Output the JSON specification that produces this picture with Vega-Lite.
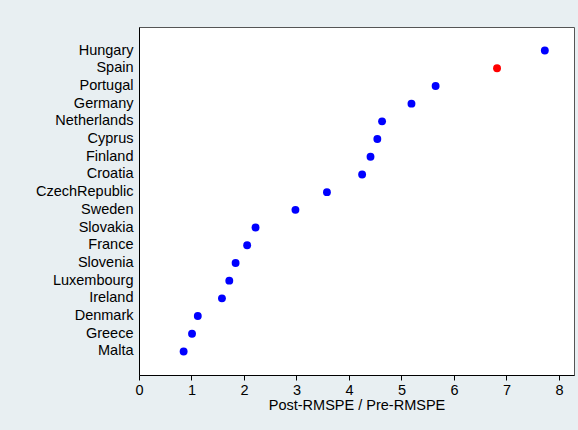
{
  "$schema": "https://vega.github.io/schema/vega-lite/v6.json",
  "width": 435,
  "height": 348,
  "autosize": {"type": "none"},
  "padding": {"left": 139, "top": 27, "right": 4, "bottom": 55},
  "background": "#e8eff2",
  "config": {
    "font": "Liberation Sans",
    "view": {"fill": "#ffffff", "stroke": "#555555", "strokeWidth": 1}
  },
  "data": {
    "values": [
      {"country": "Hungary", "ratio": 7.73, "group": "other"},
      {"country": "Spain", "ratio": 6.82, "group": "Spain"},
      {"country": "Portugal", "ratio": 5.65, "group": "other"},
      {"country": "Germany", "ratio": 5.19, "group": "other"},
      {"country": "Netherlands", "ratio": 4.63, "group": "other"},
      {"country": "Cyprus", "ratio": 4.54, "group": "other"},
      {"country": "Finland", "ratio": 4.41, "group": "other"},
      {"country": "Croatia", "ratio": 4.25, "group": "other"},
      {"country": "CzechRepublic", "ratio": 3.58, "group": "other"},
      {"country": "Sweden", "ratio": 2.98, "group": "other"},
      {"country": "Slovakia", "ratio": 2.22, "group": "other"},
      {"country": "France", "ratio": 2.06, "group": "other"},
      {"country": "Slovenia", "ratio": 1.84, "group": "other"},
      {"country": "Luxembourg", "ratio": 1.72, "group": "other"},
      {"country": "Ireland", "ratio": 1.58, "group": "other"},
      {"country": "Denmark", "ratio": 1.12, "group": "other"},
      {"country": "Greece", "ratio": 1.01, "group": "other"},
      {"country": "Malta", "ratio": 0.85, "group": "other"}
    ]
  },
  "mark": {"type": "point", "filled": true, "opacity": 1, "size": 62},
  "encoding": {
    "x": {
      "field": "ratio",
      "type": "quantitative",
      "scale": {"domain": [0, 8.286], "nice": false, "zero": false},
      "axis": {
        "title": "Post-RMSPE / Pre-RMSPE",
        "values": [0, 1, 2, 3, 4, 5, 6, 7, 8],
        "grid": false,
        "labelFlush": false,
        "domainColor": "#000000",
        "tickColor": "#000000",
        "tickSize": 5,
        "labelFontSize": 14.5,
        "labelColor": "#000000",
        "labelPadding": 3,
        "titleFontSize": 14.5,
        "titleFontWeight": "normal",
        "titleColor": "#000000",
        "titlePadding": 2
      }
    },
    "y": {
      "field": "country",
      "type": "nominal",
      "sort": null,
      "scale": {"type": "band", "paddingInner": 0, "paddingOuter": 0.83},
      "axis": {
        "title": null,
        "ticks": false,
        "grid": false,
        "domain": true,
        "domainColor": "#000000",
        "labelFontSize": 14.5,
        "labelColor": "#000000",
        "labelPadding": 6
      }
    },
    "color": {
      "field": "group",
      "type": "nominal",
      "scale": {"domain": ["other", "Spain"], "range": ["#0000ff", "#ff0000"]},
      "legend": null
    }
  }
}
